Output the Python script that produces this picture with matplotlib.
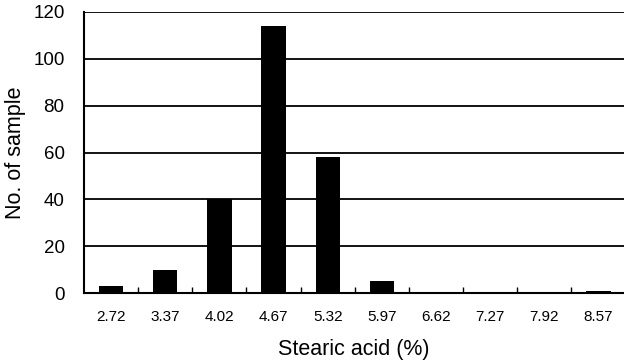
import matplotlib
matplotlib.use("Agg")
import matplotlib.pyplot as plt
import numpy as np

categories = ["2.72", "3.37", "4.02", "4.67", "5.32", "5.97", "6.62", "7.27", "7.92", "8.57"]
counts = [3, 10, 40, 114, 58, 5, 0, 0, 0, 1]
yticks = [0, 20, 40, 60, 80, 100, 120]

plt.rcParams['font.family'] = ['Liberation Sans', 'DejaVu Sans']

fig = plt.figure(figsize=(6.24, 3.6), dpi=100)
ax = fig.add_axes([84/624, 1-293/360, 1-84/624, (293-12)/360])

x = np.arange(len(categories))
ax.bar(x, counts, width=0.45, color='black', zorder=3)

ax.set_xlim(-0.5, 9.47)
ax.set_ylim(0, 120)
ax.set_yticks(yticks)
ax.set_yticklabels([str(v) for v in yticks], fontsize=13.5)
ax.yaxis.grid(True, color='black', linewidth=1.3, zorder=1)
ax.set_axisbelow(True)

ax.set_xticks(x)
ax.set_xticklabels(categories, fontsize=11)
ax.tick_params(axis='x', which='major', length=0, pad=12)
ax.set_xticks(np.arange(0.5, 9.5, 1), minor=True)
ax.tick_params(axis='x', which='minor', direction='in', length=4, width=1, color='black')
ax.tick_params(axis='y', length=0, pad=14)

for s in ['top', 'right']:
    ax.spines[s].set_visible(False)
for s in ['left', 'bottom']:
    ax.spines[s].set_color('black')
    ax.spines[s].set_linewidth(1.5)

ax.set_xlabel("Stearic acid (%)", fontsize=15.5)
ax.set_ylabel("No. of sample", fontsize=15.5)
ax.xaxis.set_label_coords(0.5, -0.165)
ax.yaxis.set_label_coords(-0.107, 0.5)

fig.savefig("out.png", dpi=100)
